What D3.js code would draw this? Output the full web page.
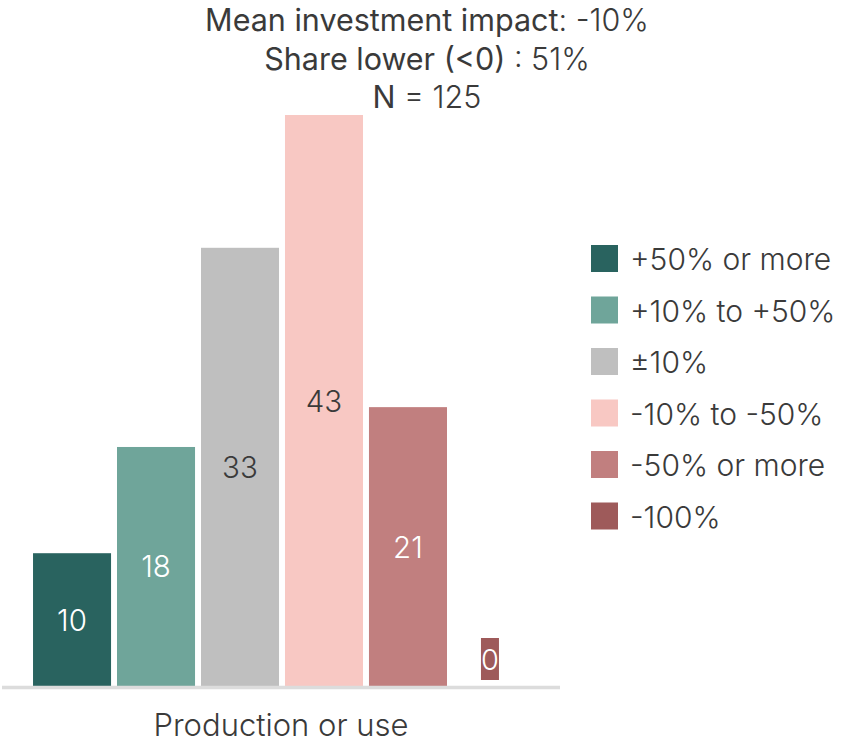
<!DOCTYPE html>
<html>
<head>
<meta charset="utf-8">
<script src="https://cdn.jsdelivr.net/npm/d3@7"></script>
<style>
  body { margin: 0; background: #fff; }
  text { font-family: Inter, "Noto Sans", sans-serif; fill: #3a3a3a; }
</style>
</head>
<body>
<div id="chart"></div>
<script>
let dim = { 'width': 844, 'height': 743 };

let categories = ["+50% or more", "+10% to +50%", "±10%", "-10% to -50%", "-50% or more", "-100%"];
let values = [10, 18, 33, 43, 21, 0];
let colors = ["#29635f", "#6fa59a", "#bfbfbf", "#f8c8c3", "#c17f7f", "#9e5a5a"];
let labelColors = ["#fff", "#fff", "#3a3a3a", "#3a3a3a", "#fff", "#fff"];
let titleLines = [["Mean investment impact", ": -10%"], ["Share lower (<0)", " : 51%"], ["N", " = 125"]];
let xLabel = "Production or use";

let svg = d3.select('#chart').append('svg')
    .attr('width', dim.width)
    .attr('height', dim.height);

let scaleX = d3.scaleBand()
    .domain(categories)
    .range([30, 534])
    .paddingInner(0.071)
    .paddingOuter(0.036);

let scaleY = d3.scaleLinear()
    .domain([0, d3.max(values)])
    .range([686, 115]);

let color = d3.scaleOrdinal().domain(categories).range(colors);

let data = categories.map((c, i) => ({ cat: c, value: values[i], lc: labelColors[i] }));

// title
let title = svg.append('text')
    .attr('text-anchor', 'middle')
    .attr('font-size', 30.5);
titleLines.forEach((l, i) => {
    let t = title.append('tspan').attr('x', 427).attr('y', 31 + i * 38.5);
    t.append('tspan').attr('font-weight', 400).text(l[0]);
    t.append('tspan').attr('font-weight', 300).text(l[1]);
});

// bars
svg.selectAll('rect.bar')
    .data(data)
    .join('rect')
    .attr('class', 'bar')
    .attr('x', d => scaleX(d.cat))
    .attr('y', d => scaleY(d.value))
    .attr('width', scaleX.bandwidth())
    .attr('height', d => scaleY(0) - scaleY(d.value))
    .attr('fill', d => color(d.cat));

// baseline
svg.append('line')
    .attr('x1', 2).attr('x2', 560)
    .attr('y1', scaleY(0) + 1.5).attr('y2', scaleY(0) + 1.5)
    .attr('stroke', '#dcdcdc')
    .attr('stroke-width', 3.5);

// value labels
data.forEach(d => {
    let cx = scaleX(d.cat) + scaleX.bandwidth() / 2;
    if (d.value === 0) {
        svg.append('rect')
            .attr('x', cx - 11).attr('y', scaleY(0) - 48)
            .attr('width', 18).attr('height', 42)
            .attr('fill', color(d.cat));
        svg.append('text')
            .attr('x', cx - 2).attr('y', scaleY(0) - 27)
            .attr('text-anchor', 'middle')
            .attr('dominant-baseline', 'central')
            .attr('font-size', 29).attr('font-weight', 300)
            .style('fill', d.lc)
            .text(d.value);
    } else {
        svg.append('text')
            .attr('x', cx)
            .attr('y', (scaleY(d.value) + scaleY(0)) / 2)
            .attr('text-anchor', 'middle')
            .attr('dominant-baseline', 'central')
            .attr('font-size', 29.5).attr('font-weight', 300)
            .style('fill', d.lc)
            .text(d.value);
    }
});

// x label
svg.append('text')
    .attr('x', 281).attr('y', 736)
    .attr('text-anchor', 'middle')
    .attr('font-size', 31).attr('font-weight', 300)
    .text(xLabel);

// legend
let legend = svg.selectAll('g.leg')
    .data(categories)
    .join('g')
    .attr('class', 'leg')
    .attr('transform', (d, i) => `translate(591,${245 + i * 51.5})`);
legend.append('rect')
    .attr('width', 27).attr('height', 27)
    .attr('fill', d => color(d));
legend.append('text')
    .attr('x', 39).attr('y', 14)
    .attr('dominant-baseline', 'central')
    .attr('font-size', 30).attr('font-weight', 300)
    .text(d => d);
</script>
</body>
</html>
